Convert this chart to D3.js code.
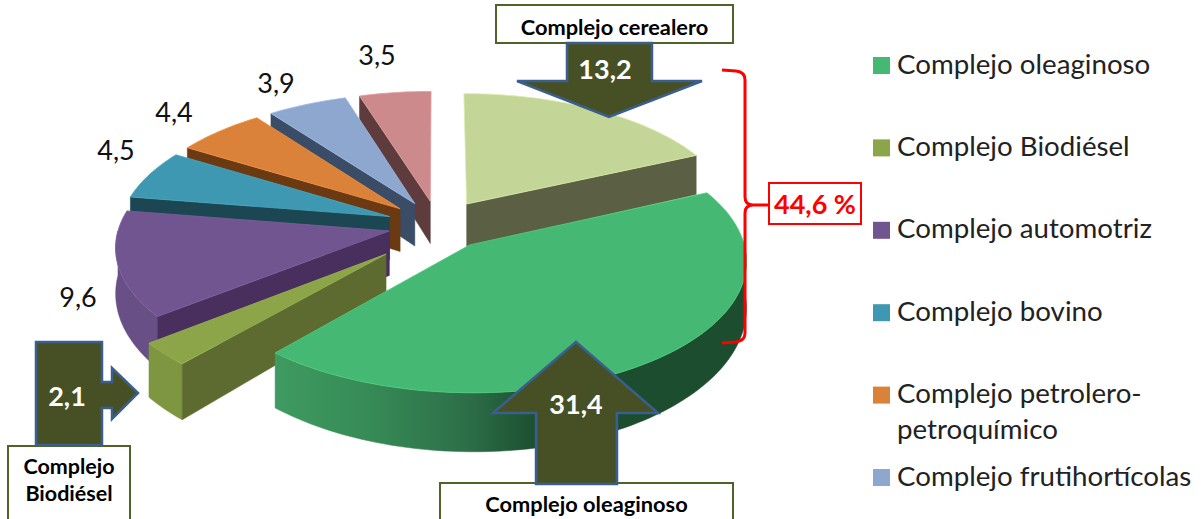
<!DOCTYPE html>
<html>
<head>
<meta charset="utf-8">
<script src="https://d3js.org/d3.v7.min.js"></script>
<style>
  html, body { margin: 0; padding: 0; background: #fff; }
  text { font-family: Lato, "Open Sans", sans-serif; }
</style>
</head>
<body>
<div id="grafico"></div>
<script>
//----------------------------------------------------------------
// datos (el nombre del sector rosa no se ve en la leyenda recortada)
//----------------------------------------------------------------
var categorias = ["Complejo oleaginoso", "Complejo Biodiésel", "Complejo automotriz", "Complejo bovino",
                  "Complejo petrolero-petroquímico", "Complejo frutihortícolas", "", "Complejo cerealero"];
var valores = [31.4, 2.1, 9.6, 4.5, 4.4, 3.9, 3.5, 13.2];
var leyendaLineas = [["Complejo oleaginoso"], ["Complejo Biodiésel"], ["Complejo automotriz"], ["Complejo bovino"],
                     ["Complejo petrolero-", "petroquímico"], ["Complejo frutihortícolas"]];
var totalCorchete = "44,6 %";

//----------------------------------------------------------------
// estilos
//----------------------------------------------------------------
var colorTapa = ["#45B973", "#8CA548", "#705590", "#3F98B1", "#DB823A", "#8DA7CF", "#CD8A8D", "#C3D597"];
var colorLado = ["#1B4D2E", "#5E6B30", "#482F5E", "#1C4652", "#6B3A12", "#3B4C66", "#5E3C3E", "#5B6045"];
var colorBorde = ["url(#bordeVerde)", "#7F9640", "#684F86", "#2F7488", "#A9652C", "#6C81A1", "#9E6A6C", "#8E9E6E"];
var separacion = [52, 70, 50, 52, 52, 52, 52, 54];
var ajusteFondo = [0, -12, 0, 0, 0, 0, 0, 0];
var etiquetas = {2: [78, 296], 3: [116, 149], 4: [174, 111], 5: [276, 82], 6: [377, 54]};

var largeur = 1202, hauteur = 519;
var cx = 438, cy = 225;    // centro del pastel
var R = 270, k = 0.47;     // radio y aplastamiento
var p = 0.11, q = 0.22;    // perspectiva de la tapa y del espesor
var espesor = 44;

var svg = d3.select("#grafico").append("svg")
    .attr("width", largeur)
    .attr("height", hauteur)
    .style("display", "block");

var grad = svg.append("defs").append("linearGradient")
    .attr("id", "bordeVerde")
    .attr("gradientUnits", "userSpaceOnUse")
    .attr("x1", 280).attr("x2", 743).attr("y1", 0).attr("y2", 0);
[[0, "#3E9A60"], [0.2, "#368A56"], [0.4, "#2D6F48"], [0.56, "#1B4D2E"], [1, "#1B4D2E"]].forEach(function(s) {
    grad.append("stop").attr("offset", s[0]).attr("stop-color", s[1]);
});

//----------------------------------------------------------------
// proyección de un punto del pastel hacia la pantalla
//----------------------------------------------------------------
function proyecta(X, Y, abajo) {
    var d = 1 + p * Y / R;
    var z = abajo ? espesor / (1 + q * Y / R) : 0;
    return [cx + X / d, cy - k * Y / d + z];
}

function puntoBorde(s, a, abajo) {
    return proyecta(s.ox + R * Math.sin(a), s.oy + R * Math.cos(a), abajo);
}

function arcoBorde(s, a0, a1, abajo) {
    var n = Math.max(2, Math.ceil(Math.abs(a1 - a0) * 40));
    return d3.range(n + 1).map(function(i) {
        return puntoBorde(s, a0 + (a1 - a0) * i / n, abajo);
    });
}

//----------------------------------------------------------------
// sectores: el cerealero queda al final, desde las 12 en punto
//----------------------------------------------------------------
var inicio = 2 * Math.PI * valores[7] / d3.sum(valores);
var pie = d3.pie().sort(null).startAngle(inicio).endAngle(inicio + 2 * Math.PI);
var sectores = pie(valores).map(function(d, i) {
    var m = (d.startAngle + d.endAngle) / 2;
    return {
        i: i, a0: d.startAngle, a1: d.endAngle, m: m,
        ox: separacion[i] * Math.sin(m),
        oy: separacion[i] * Math.cos(m) + ajusteFondo[i]
    };
});
// de atrás hacia adelante
sectores.sort(function(a, b) { return Math.cos(b.m) - Math.cos(a.m); });

var linea = d3.line();
var pastel = svg.append("g");

sectores.forEach(function(s) {
    var g = pastel.append("g");
    var apex = proyecta(s.ox, s.oy, false);
    var apexAbajo = proyecta(s.ox, s.oy, true);

    // pared exterior, sólo la parte que mira al frente
    var ini = Math.max(s.a0, Math.PI / 2), fin = Math.min(s.a1, 3 * Math.PI / 2);
    if (fin > ini) {
        var pts = arcoBorde(s, ini, fin, false).concat(arcoBorde(s, fin, ini, true));
        g.append("path")
            .attr("d", linea(pts) + "Z")
            .attr("fill", colorBorde[s.i])
            .attr("stroke", colorBorde[s.i]).attr("stroke-width", 0.5);
    }

    // paredes radiales visibles
    [[s.a0, s.a0 - Math.PI / 2], [s.a1, s.a1 + Math.PI / 2]].forEach(function(w) {
        if (Math.cos(w[1]) < -0.001) {
            var pared = [apex, puntoBorde(s, w[0], false), puntoBorde(s, w[0], true), apexAbajo];
            g.append("path")
                .attr("d", linea(pared) + "Z")
                .attr("fill", colorLado[s.i])
                .attr("stroke", colorLado[s.i]).attr("stroke-width", 0.5);
        }
    });

    // tapa
    var tapa = [apex].concat(arcoBorde(s, s.a0, s.a1, false));
    g.append("path")
        .attr("d", linea(tapa) + "Z")
        .attr("fill", colorTapa[s.i])
        .attr("stroke", d3.color(colorTapa[s.i]).brighter(0.3)).attr("stroke-width", 0.8);
});

//----------------------------------------------------------------
// etiquetas de valor
//----------------------------------------------------------------
function coma(v) { return String(v).replace(".", ","); }

Object.keys(etiquetas).forEach(function(i) {
    svg.append("text")
        .attr("x", etiquetas[i][0]).attr("y", etiquetas[i][1])
        .attr("text-anchor", "middle").attr("dominant-baseline", "central")
        .attr("font-size", 27).attr("fill", "#111")
        .text(coma(valores[i]));
});

//----------------------------------------------------------------
// flechas con su recuadro
//----------------------------------------------------------------
function recuadro(x, y, w, h, lineas, ys, fs) {
    svg.append("rect")
        .attr("x", x).attr("y", y).attr("width", w).attr("height", h)
        .attr("fill", "#fff").attr("stroke", "#4F6228").attr("stroke-width", 2);
    lineas.forEach(function(t, i) {
        svg.append("text")
            .attr("x", x + w / 2).attr("y", ys[i])
            .attr("text-anchor", "middle").attr("dominant-baseline", "central")
            .attr("font-size", fs).attr("font-weight", 700).attr("fill", "#000")
            .text(t);
    });
}

function flecha(pts, v, x, y) {
    svg.append("path")
        .attr("d", linea(pts) + "Z")
        .attr("fill", "#475024").attr("stroke", "#3A5F8E").attr("stroke-width", 2.5)
        .attr("stroke-linejoin", "miter");
    svg.append("text")
        .attr("x", x).attr("y", y)
        .attr("text-anchor", "middle").attr("dominant-baseline", "central")
        .attr("font-size", 27).attr("font-weight", 700).attr("fill", "#fff")
        .text(coma(v));
}

recuadro(496, 5, 237, 38, [categorias[7]], [26], 21.8);
flecha([[567, 43], [652, 43], [652, 81], [702, 81], [609, 117], [517, 81], [567, 81]], valores[7], 605, 68);

recuadro(440, 483, 293, 50, [categorias[0]], [503], 21.8);
flecha([[576, 342], [658, 413], [617, 413], [617, 484], [536, 484], [536, 413], [493, 413]], valores[0], 576, 403);

recuadro(8, 446, 122, 80, ["Complejo", "Biodiésel"], [466, 493], 21.5);
flecha([[36, 342], [102, 342], [102, 382], [112, 382], [112, 368], [138, 393], [112, 419], [112, 408], [102, 408], [102, 445], [36, 445]],
       valores[1], 67, 395);

//----------------------------------------------------------------
// corchete rojo y total
//----------------------------------------------------------------
var corchete = d3.path();
corchete.moveTo(722, 70);
corchete.lineTo(736, 71);
corchete.quadraticCurveTo(745, 72, 745, 80);
corchete.lineTo(745, 197);
corchete.quadraticCurveTo(745, 205, 753, 205);
corchete.lineTo(769, 205);
corchete.moveTo(753, 205);
corchete.quadraticCurveTo(745, 205, 745, 213);
corchete.lineTo(745, 333);
corchete.quadraticCurveTo(745, 341, 736, 342);
corchete.lineTo(722, 343);
svg.append("path")
    .attr("d", corchete.toString())
    .attr("fill", "none").attr("stroke", "#F00").attr("stroke-width", 3);

svg.append("rect")
    .attr("x", 769).attr("y", 183).attr("width", 92).attr("height", 41)
    .attr("fill", "#fff").attr("stroke", "#F00").attr("stroke-width", 2);
svg.append("text")
    .attr("x", 815).attr("y", 203)
    .attr("text-anchor", "middle").attr("dominant-baseline", "central")
    .attr("font-size", 27).attr("font-weight", 700).attr("fill", "#F00")
    .text(totalCorchete);

//----------------------------------------------------------------
// leyenda
//----------------------------------------------------------------
var leyendaY = d3.scaleLinear().domain([0, 5]).range([65, 477]);
leyendaLineas.forEach(function(l, i) {
    var y = leyendaY(i);
    svg.append("rect")
        .attr("x", 873).attr("y", y - 8).attr("width", 17).attr("height", 17)
        .attr("fill", colorTapa[i]);
    l.forEach(function(t, j) {
        svg.append("text")
            .attr("x", 897).attr("y", y - 2 + j * 36)
            .attr("dominant-baseline", "central")
            .attr("font-size", 27.7).attr("fill", "#222")
            .text(t);
    });
});
</script>
</body>
</html>
